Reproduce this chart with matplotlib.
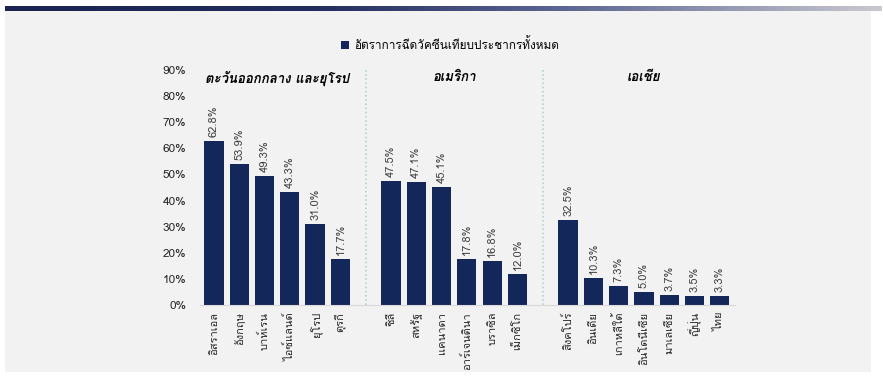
import numpy as np
import matplotlib
matplotlib.use("Agg")
import matplotlib.pyplot as plt
from matplotlib import font_manager
from matplotlib.ft2font import FT2Font

# data
group_titles = ["ตะวันออกกลาง และยุโรป", "อเมริกา", "เอเชีย"]
mideast_eu = ["อิสราเอล", "อังกฤษ", "บาห์เรน", "ไอซ์แลนด์", "ยุโรป", "ตุรกี"]
mideast_eu_vals = [62.8, 53.9, 49.3, 43.3, 31.0, 17.7]
america = ["ชิลี", "สหรัฐ", "แคนาดา", "อาร์เจนตินา", "บราซิล", "เม็กซิโก"]
america_vals = [47.5, 47.1, 45.1, 17.8, 16.8, 12.0]
asia = ["สิงคโปร์", "อินเดีย", "เกาหลีใต้", "อินโดนีเซีย", "มาเลเซีย", "ญี่ปุ่น", "ไทย"]
asia_vals = [32.5, 10.3, 7.3, 5.0, 3.7, 3.5, 3.3]
legend_label = "อัตราการฉีดวัคซีนเทียบประชากรทั้งหมด"
y_ticks = [0, 10, 20, 30, 40, 50, 60, 70, 80, 90]


def find_thai_font():
    # look for any installed font that has Thai glyphs
    for f in font_manager.fontManager.ttflist:
        try:
            cmap = FT2Font(f.fname).get_charmap()
        except Exception:
            continue
        if ord("ก") in cmap and ord("ไ") in cmap:
            return f.name
    return "DejaVu Sans"


thai = find_thai_font()
plt.rcParams["font.family"] = [thai, "DejaVu Sans"]

navy = "#13275a"
groups = [(mideast_eu, mideast_eu_vals), (america, america_vals), (asia, asia_vals)]

fig = plt.figure(figsize=(8.83, 3.78), dpi=100)
fig.patch.set_facecolor("white")
bg = fig.add_axes([5 / 883, 6 / 378, 866 / 883, 362 / 378], zorder=-10)
bg.set_facecolor("#f2f2f2")
bg.set_xticks([])
bg.set_yticks([])
for sp in bg.spines.values():
    sp.set_visible(False)

# gradient bar on top
gax = fig.add_axes([5 / 883, 1 - 11 / 378, 877 / 883, 5 / 378])
grad = np.linspace(0, 1, 256).reshape(1, -1)
cmap = matplotlib.colors.LinearSegmentedColormap.from_list(
    "g", [(0, "#1b2450"), (0.35, "#222d5e"), (0.65, "#606893"), (1, "#c9c9cf")])
gax.imshow(grad, aspect="auto", cmap=cmap)
gax.axis("off")

ax = fig.add_axes([200 / 883, (378 - 305) / 378, 535 / 883, 235 / 378])
ax.set_facecolor("none")

positions, labels, values = [], [], []
seps = []
pos = 0
for i, (names, vals) in enumerate(groups):
    for n, v in zip(names, vals):
        positions.append(pos)
        labels.append(n)
        values.append(v)
        pos += 1
    if i < len(groups) - 1:
        seps.append(pos)
        pos += 1

bars = ax.bar(positions, values, width=0.76, color=navy, label=legend_label)
for x, v in zip(positions, values):
    ax.text(x, v + 1.5, f"{v:.1f}%", rotation=90, ha="center", va="bottom",
            fontsize=8, color="#404040")

for s in seps:
    ax.axvline(s, ymin=0, ymax=1.0, color="#a9d9d2", linestyle=(0, (1, 1.5)), lw=1.2)

# group titles
starts = [0, 7, 14]
ends = [5, 12, 20]
for t, a, b in zip(group_titles, starts, ends):
    ax.text((a + b) / 2, 87, t, ha="center", va="center", fontsize=9.5,
            fontweight="bold", fontstyle="italic", color="black")

ax.set_xlim(-0.55, 20.6)
ax.set_ylim(0, 90)
ax.set_yticks(y_ticks)
ax.set_yticklabels([f"{t}%" for t in y_ticks], fontsize=8.5, color="#262626")
ax.set_xticks(positions)
ax.set_xticklabels(labels, rotation=90, fontsize=8, color="#262626")
ax.tick_params(length=0)
ax.tick_params(axis="x", pad=5)
ax.tick_params(axis="y", pad=10)
for side in ["top", "right", "left"]:
    ax.spines[side].set_visible(False)
ax.spines["bottom"].set_color("#d9d9d9")

fig.legend(handles=[bars], labels=[legend_label], loc="center",
           bbox_to_anchor=(450 / 883, 1 - 44 / 378), frameon=False,
           fontsize=8.5, handlelength=0.7, handleheight=0.7, handletextpad=0.4)

fig.savefig("out.png", dpi=100, facecolor=fig.get_facecolor())
